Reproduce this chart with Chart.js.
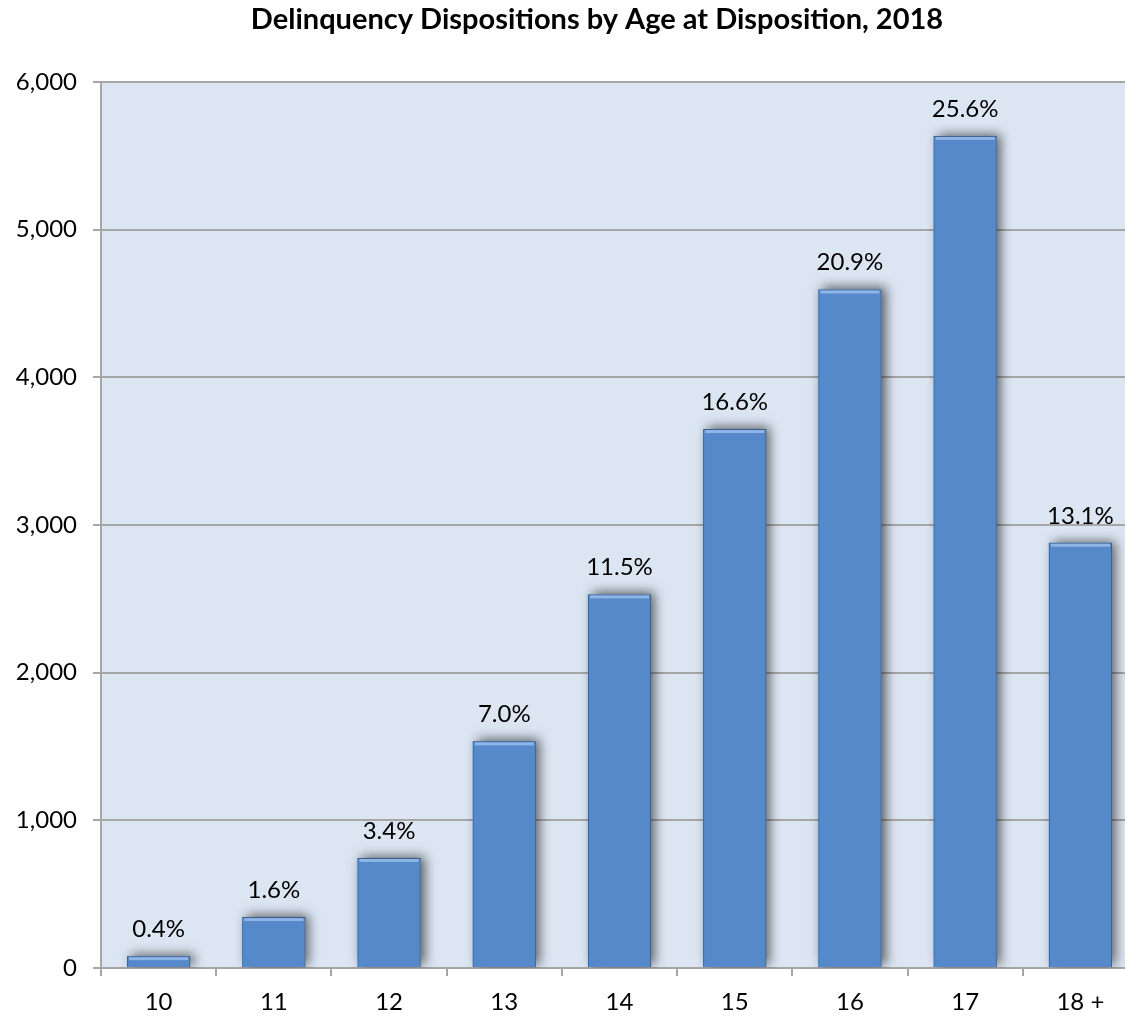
<!DOCTYPE html>
<html>
<head>
<meta charset="utf-8">
<script src="https://cdn.jsdelivr.net/npm/chart.js@4.4.1/dist/chart.umd.min.js"></script>
<style>
    html, body { margin: 0; padding: 0; background: #ffffff; overflow: hidden; }
    #wrap { width: 1140px; height: 1016px; }
</style>
</head>
<body>
<div id="wrap"><canvas id="ageChart" width="1140" height="1016"></canvas></div>
<script>
// Data
const ages = ['10', '11', '12', '13', '14', '15', '16', '17', '18 +'];
const dispositions = [80, 345, 745, 1535, 2530, 3650, 4595, 5635, 2880];
const percentLabels = ['0.4%', '1.6%', '3.4%', '7.0%', '11.5%', '16.6%', '20.9%', '25.6%', '13.1%'];
const chartTitle = 'Delinquency Dispositions by Age at Disposition, 2018';

const FONT = "Lato, Carlito, Calibri, 'Open Sans', sans-serif";

// 플롯 배경 + 제목
const plotBackground = {
    id: 'plotBackground',
    beforeDraw(chart) {
        const { ctx, chartArea } = chart;
        ctx.save();
        ctx.fillStyle = '#dce6f2';
        ctx.fillRect(chartArea.left, chartArea.top, chartArea.right - chartArea.left, chartArea.bottom - chartArea.top);

        ctx.fillStyle = '#000000';
        ctx.font = 'bold 29px ' + FONT;
        ctx.textAlign = 'center';
        ctx.textBaseline = 'alphabetic';
        ctx.fillText(chartTitle, 597, 29);
        ctx.restore();
    }
};

// 막대 그림자 (막대 요소 위치 기준으로 먼저 그림)
const barShadow = {
    id: 'barShadow',
    beforeDatasetsDraw(chart) {
        const ctx = chart.ctx;
        const meta = chart.getDatasetMeta(0);
        ctx.save();
        ctx.beginPath();
        ctx.rect(chart.chartArea.left, chart.chartArea.top, chart.chartArea.right - chart.chartArea.left, chart.chartArea.bottom - chart.chartArea.top);
        ctx.clip();
        ctx.shadowColor = 'rgba(0, 0, 0, 0.6)';
        ctx.shadowBlur = 11;
        ctx.shadowOffsetX = 4;
        ctx.shadowOffsetY = -2;
        ctx.fillStyle = '#5589c9';
        meta.data.forEach(bar => {
            const half = bar.width / 2;
            ctx.fillRect(bar.x - half, bar.y, bar.width, bar.base - bar.y);
        });
        ctx.restore();
    }
};

// 막대 위쪽 하이라이트 + 퍼센트 라벨
const barLabels = {
    id: 'barLabels',
    afterDatasetsDraw(chart) {
        const ctx = chart.ctx;
        const meta = chart.getDatasetMeta(0);
        ctx.save();
        meta.data.forEach((bar, i) => {
            const half = bar.width / 2;
            ctx.fillStyle = '#8fb4e6';
            ctx.fillRect(bar.x - half + 2, bar.y + 1, bar.width - 4, 3);

            ctx.fillStyle = '#000000';
            ctx.font = '24px ' + FONT;
            ctx.textAlign = 'center';
            ctx.textBaseline = 'alphabetic';
            ctx.fillText(percentLabels[i], bar.x, bar.y - 19);
        });
        ctx.restore();
    }
};

new Chart(document.getElementById('ageChart'), {
    type: 'bar',
    data: {
        labels: ages,
        datasets: [{
            data: dispositions,
            backgroundColor: '#5589c9',
            borderColor: '#3a5e8c',
            borderWidth: 1,
            categoryPercentage: 1,
            barPercentage: 0.548
        }]
    },
    plugins: [plotBackground, barShadow, barLabels],
    options: {
        responsive: false,
        animation: false,
        layout: {
            padding: { left: 0, right: 2, top: 82, bottom: 0 }
        },
        plugins: {
            legend: { display: false },
            tooltip: { enabled: false },
            title: { display: false }
        },
        scales: {
            x: {
                grid: {
                    display: true,
                    drawOnChartArea: false,
                    drawTicks: true,
                    tickLength: 8,
                    color: '#a6a6a6',
                    lineWidth: 2
                },
                border: { display: false },
                ticks: {
                    color: '#000000',
                    font: { family: FONT, size: 24 },
                    padding: 12
                },
                afterFit(scale) {
                    scale.height = 48;
                }
            },
            y: {
                min: 0,
                max: 6000,
                ticks: {
                    stepSize: 1000,
                    color: '#000000',
                    font: { family: FONT, size: 24 },
                    padding: 16,
                    callback: value => value.toLocaleString('en-US')
                },
                grid: {
                    color: '#a6a6a6',
                    lineWidth: 2,
                    tickLength: 8
                },
                border: { display: true, color: '#a6a6a6', width: 2 },
                afterFit(scale) {
                    scale.width = 101;
                }
            }
        }
    }
});
</script>
</body>
</html>
